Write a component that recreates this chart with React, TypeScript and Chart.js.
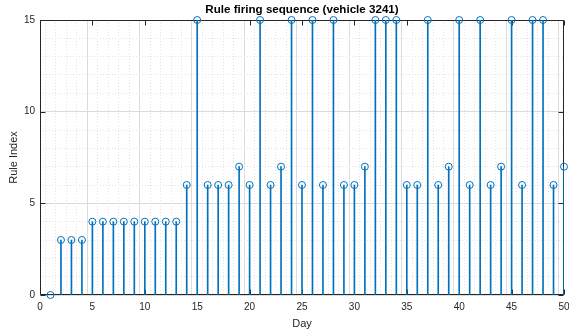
import React, { useEffect, useRef } from 'react';
import { Chart, registerables } from 'chart.js';

Chart.register(...registerables);

// Day numbers (x) and the rule index that fired on each day (y)
const days = [
  1, 2, 3, 4, 5, 6, 7, 8, 9, 10,
  11, 12, 13, 14, 15, 16, 17, 18, 19, 20,
  21, 22, 23, 24, 25, 26, 27, 28, 29, 30,
  31, 32, 33, 34, 35, 36, 37, 38, 39, 40,
  41, 42, 43, 44, 45, 46, 47, 48, 49, 50,
];
const ruleIndex = [
  0, 3, 3, 3, 4, 4, 4, 4, 4, 4,
  4, 4, 4, 6, 15, 6, 6, 6, 7, 6,
  15, 6, 7, 15, 6, 15, 6, 15, 6, 6,
  7, 15, 15, 15, 6, 6, 15, 6, 7, 15,
  6, 15, 6, 7, 15, 6, 15, 15, 6, 7,
];

const xTickLabels = [0, 5, 10, 15, 20, 25, 30, 35, 40, 45, 50];
const yTickLabels = [0, 5, 10, 15];

const chartTitle = 'Rule firing sequence (vehicle 3241)';
const xTitle = 'Day';
const yTitle = 'Rule Index';

const STEM_BLUE = '#0072BD';
const AXIS_DARK = '#262626';
const FONT = '"Liberation Sans", Arial, Helvetica, sans-serif';

// Box around the plotting area plus inward-pointing major tick marks on all four sides
const axisFrame = {
  id: 'axisFrame',
  beforeDatasetsDraw(chart: any) {
    const { ctx, chartArea: a, scales } = chart;
    const x = scales.x;
    const y = scales.y;
    const L = Math.round(a.left) + 0.5;
    const R = Math.round(a.right) - 0.5;
    const T = Math.round(a.top) + 0.5;
    const B = Math.round(a.bottom) - 0.5;
    const len = 5;
    ctx.save();
    ctx.lineWidth = 1;
    ctx.strokeStyle = AXIS_DARK;
    ctx.beginPath();
    ctx.moveTo(L, T);
    ctx.lineTo(R, T);
    ctx.lineTo(R, B);
    ctx.lineTo(L, B);
    ctx.closePath();
    ctx.stroke();
    ctx.beginPath();
    xTickLabels.forEach((v) => {
      const px = Math.round(x.getPixelForValue(v)) + 0.5;
      ctx.moveTo(px, B);
      ctx.lineTo(px, B - len);
      ctx.moveTo(px, T);
      ctx.lineTo(px, T + len);
    });
    yTickLabels.forEach((v) => {
      const py = Math.round(y.getPixelForValue(v)) + 0.5;
      ctx.moveTo(L, py);
      ctx.lineTo(L + len, py);
      ctx.moveTo(R, py);
      ctx.lineTo(R - len, py);
    });
    ctx.stroke();
    ctx.restore();
  },
};

const isMajor = (ctx: any, labels: number[]) =>
  ctx && ctx.tick && labels.includes(ctx.tick.value);

export default function App() {
  const canvasRef = useRef<HTMLCanvasElement | null>(null);

  useEffect(() => {
    const canvas = canvasRef.current;
    if (!canvas) return;
    const points = days.map((d, i) => ({ x: d, y: ruleIndex[i] }));

    const chart = new Chart(canvas, {
      type: 'bar',
      data: {
        datasets: [
          {
            type: 'scatter',
            label: 'markers',
            data: points,
            showLine: false,
            pointStyle: 'circle',
            pointRadius: 3.5,
            pointBorderWidth: 1,
            pointBorderColor: STEM_BLUE,
            pointBackgroundColor: 'rgba(0,0,0,0)',
            clip: false,
            order: 0,
          } as any,
          {
            type: 'bar',
            label: 'stems',
            data: points,
            backgroundColor: STEM_BLUE,
            borderWidth: 0,
            barThickness: 1,
            order: 1,
          } as any,
        ],
      },
      options: {
        animation: false,
        responsive: false,
        devicePixelRatio: 1,
        layout: { padding: { left: 0, right: 5, top: 0, bottom: 0 } },
        plugins: {
          legend: { display: false },
          title: { display: false },
          tooltip: { enabled: false },
        },
        scales: {
          x: {
            type: 'linear',
            position: 'bottom',
            min: 0,
            max: 50,
            offset: false,
            afterFit: (s: any) => {
              s.height = 40;
              s.paddingLeft = 0;
              s.paddingRight = 0;
            },
            ticks: {
              stepSize: 1,
              autoSkip: false,
              maxRotation: 0,
              padding: 6,
              color: AXIS_DARK,
              font: { family: FONT, size: 10 },
              callback: (v: any) => (xTickLabels.includes(Number(v)) ? String(v) : ''),
            },
            grid: {
              drawTicks: false,
              lineWidth: 1,
              color: (c: any) => (isMajor(c, xTickLabels) ? '#dcdcdc' : '#e4e4e4'),
            },
            border: {
              display: false,
              dash: (c: any) => (isMajor(c, xTickLabels) ? [] : [1, 2]),
            },
            title: {
              display: true,
              text: xTitle,
              color: AXIS_DARK,
              font: { family: FONT, size: 11 },
              padding: { top: 0, bottom: 4 },
            },
          } as any,
          xTop: {
            type: 'linear',
            position: 'top',
            min: 0,
            max: 50,
            afterFit: (s: any) => {
              s.height = 20;
              s.paddingLeft = 0;
              s.paddingRight = 0;
            },
            ticks: { display: false },
            grid: { display: false, drawOnChartArea: false, drawTicks: false },
            border: { display: false },
            title: {
              display: true,
              text: chartTitle,
              color: '#000000',
              font: { family: FONT, size: 11.6, weight: 'bold' },
              padding: { top: 3, bottom: 0 },
            },
          } as any,
          y: {
            type: 'linear',
            position: 'left',
            min: 0,
            max: 15,
            afterFit: (s: any) => {
              s.width = 40;
            },
            ticks: {
              stepSize: 1,
              autoSkip: false,
              padding: 5,
              color: AXIS_DARK,
              font: { family: FONT, size: 10 },
              callback: (v: any) => (yTickLabels.includes(Number(v)) ? String(v) : ''),
            },
            grid: {
              drawTicks: false,
              lineWidth: 1,
              color: (c: any) => (isMajor(c, yTickLabels) ? '#dcdcdc' : '#e4e4e4'),
            },
            border: {
              display: false,
              dash: (c: any) => (isMajor(c, yTickLabels) ? [] : [1, 2]),
            },
            title: {
              display: true,
              text: yTitle,
              color: AXIS_DARK,
              font: { family: FONT, size: 11 },
              padding: { top: 7, bottom: 0 },
            },
          } as any,
        },
      },
      plugins: [axisFrame],
    });

    return () => chart.destroy();
  }, []);

  return (
    <div style={{ position: 'absolute', left: 0, top: 0, width: 569, height: 335, background: '#ffffff' }}>
      <canvas ref={canvasRef} width={569} height={335} style={{ display: 'block' }} />
    </div>
  );
}
